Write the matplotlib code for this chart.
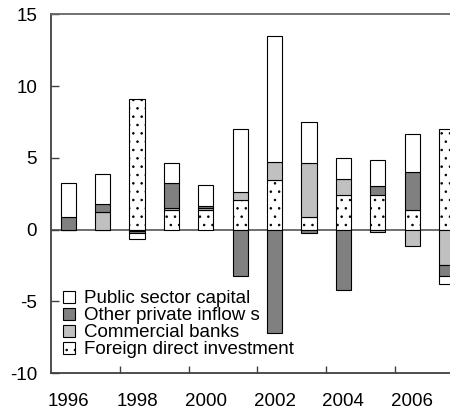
import numpy as np
import matplotlib
matplotlib.use("Agg")
import matplotlib.pyplot as plt

years = ["1996", "1997", "1998", "1999", "2000", "2001",
         "2002", "2003", "2004", "2005", "2006", "2007"]

# stacked in this order from the zero line outward
fdi = [0.0, 0.0, 9.10, 1.33, 1.38, 2.07, 3.46, 0.87, 2.42, 2.42, 1.38, 6.99]
banks = [0.0, 1.22, -0.12, 0.17, 0.15, 0.54, 1.28, 3.75, 1.09, -0.20, -1.13, -2.50]
other = [0.87, 0.55, -0.12, 1.73, 0.08, -3.26, -7.20, -0.25, -4.23, 0.58, 2.62, -0.76]
public = [2.36, 2.09, -0.42, 1.39, 1.51, 4.40, 8.76, 2.86, 1.50, 1.85, 2.64, -0.51]

plt.rcParams['font.family'] = ['Liberation Sans', 'DejaVu Sans']
plt.rcParams['axes.unicode_minus'] = False
plt.rcParams['hatch.linewidth'] = 0.6

fig = plt.figure(figsize=(4.5, 4.12), dpi=100)
ax = fig.add_axes([51/450, 39/412, 412.8/450, 358.7/412])

x = np.arange(len(years))
w = 0.44
pos_base = np.zeros(len(years))
neg_base = np.zeros(len(years))
series = [
    (fdi, "white", "..", "Foreign direct investment"),
    (banks, "#c0c0c0", None, "Commercial banks"),
    (other, "#808080", None, "Other private inflow s"),
    (public, "white", None, "Public sector capital"),
]
handles = []
for vals, col, hatch, lab in series:
    v = np.array(vals)
    base = np.where(v >= 0, pos_base, neg_base)
    b = ax.bar(x, v, w, bottom=base, color=col, edgecolor="black",
               linewidth=0.8, hatch=hatch, label=lab)
    handles.append(b)
    pos_base = pos_base + np.clip(v, 0, None)
    neg_base = neg_base + np.clip(v, None, 0)

ax.axhline(0, color="#555555", lw=1.2, zorder=0.5)

ax.set_xlim(-0.5, 11.5)
ax.set_ylim(-10, 15)
ax.set_yticks([-10, -5, 0, 5, 10, 15])
ax.tick_params(axis="y", direction="in", length=6, width=1, labelsize=13.5, pad=10,
               color="#404040")
ax.set_xticks(np.arange(1.5, 11, 2))
ax.set_xticklabels([])
ax.set_xticks(x[::2], minor=True)
ax.set_xticklabels(years[::2], minor=True)
ax.tick_params(axis="x", which="major", direction="in", length=5, width=1, color="#404040")
ax.tick_params(axis="x", which="minor", length=0, labelsize=13.5, pad=14.5)

for s in ["left", "bottom"]:
    ax.spines[s].set_color("#404040")
    ax.spines[s].set_linewidth(1.3)
ax.spines["top"].set_color("#666666")
ax.spines["top"].set_linewidth(1.3)
ax.spines["right"].set_visible(False)

ax.legend(handles[::-1], [h.get_label() for h in handles[::-1]],
          loc="lower left", bbox_to_anchor=(0.012, 0.02), frameon=False,
          fontsize=13.5, handlelength=0.6, handleheight=0.6, handletextpad=0.5,
          labelspacing=0.0, borderpad=0.2, borderaxespad=0.2)

fig.savefig("out.png", dpi=100)
